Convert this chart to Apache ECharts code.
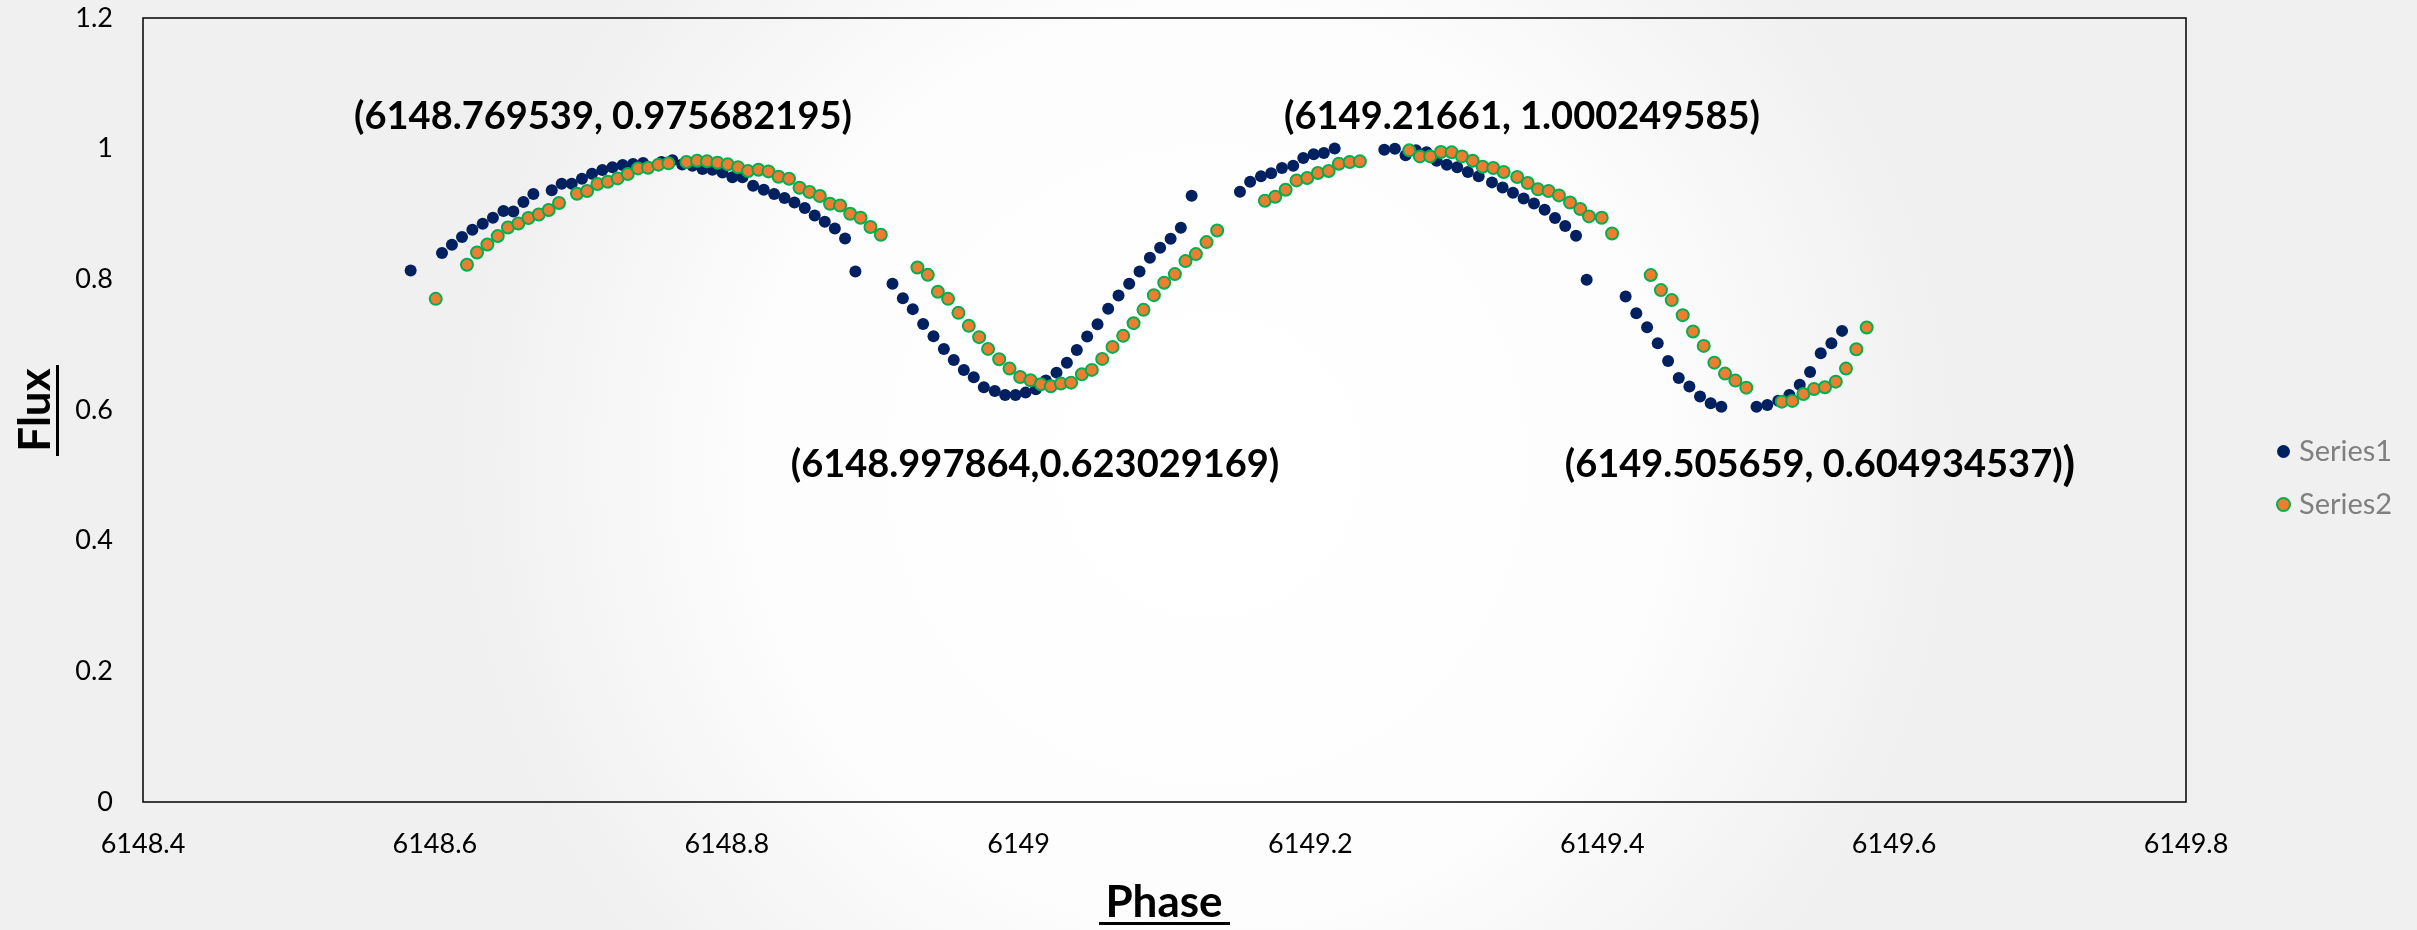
<!DOCTYPE html>
<html>
<head>
<meta charset="utf-8">
<style>
  html, body { margin: 0; padding: 0; }
  #chart { width: 2417px; height: 930px; }
</style>
<script src="https://cdn.jsdelivr.net/npm/echarts@6/dist/echarts.min.js"></script>
</head>
<body>
<div id="chart"></div>
<script>
// Series1: 相位 / 流量
const s1Phase = [
  6148.5834, 6148.6049, 6148.6117, 6148.6186, 6148.6257, 6148.6328, 6148.6398, 6148.6470, 6148.6538, 6148.6607,
  6148.6675, 6148.6801, 6148.6869, 6148.6938, 6148.7008, 6148.7077, 6148.7148, 6148.7217, 6148.7287, 6148.7358,
  6148.7427, 6148.7553, 6148.7628, 6148.7695, 6148.7765, 6148.7834, 6148.7902, 6148.7971, 6148.8039, 6148.8108,
  6148.8181, 6148.8254, 6148.8325, 6148.8396, 6148.8464, 6148.8535, 6148.8603, 6148.8672, 6148.8741, 6148.8811,
  6148.8882, 6148.9136, 6148.9207, 6148.9275, 6148.9346, 6148.9417, 6148.9488, 6148.9556, 6148.9625, 6148.9693,
  6148.9762, 6148.9837, 6148.9908, 6148.9979, 6149.0048, 6149.0118, 6149.0187, 6149.0260, 6149.0331, 6149.0399,
  6149.0470, 6149.0541, 6149.0614, 6149.0685, 6149.0758, 6149.0829, 6149.0900, 6149.0970, 6149.1042, 6149.1112,
  6149.1186, 6149.1517, 6149.1587, 6149.1661, 6149.1731, 6149.1805, 6149.1882, 6149.1951, 6149.2022, 6149.2092,
  6149.2166, 6149.2506, 6149.2579, 6149.2652, 6149.2723, 6149.2796, 6149.2865, 6149.2935, 6149.3006, 6149.3079,
  6149.3153, 6149.3244, 6149.3317, 6149.3388, 6149.3461, 6149.3532, 6149.3605, 6149.3676, 6149.3746, 6149.3820,
  6149.3893, 6149.4160, 6149.4233, 6149.4307, 6149.4380, 6149.4451, 6149.4524, 6149.4597, 6149.4670, 6149.4743,
  6149.4816, 6149.5057, 6149.5131, 6149.5206, 6149.5282, 6149.5353, 6149.5424, 6149.5497, 6149.5570, 6149.5643
]
const s1Flux = [
  0.8135, 0.8402, 0.8529, 0.8647, 0.8759, 0.8851, 0.8943, 0.9045, 0.9040, 0.9183,
  0.9306, 0.9362, 0.9464, 0.9464, 0.9540, 0.9617, 0.9674, 0.9714, 0.9750, 0.9766,
  0.9781, 0.9796, 0.9821, 0.9757, 0.9740, 0.9689, 0.9678, 0.9637, 0.9561, 0.9561,
  0.9433, 0.9372, 0.9306, 0.9244, 0.9177, 0.9091, 0.8978, 0.8881, 0.8779, 0.8626,
  0.8120, 0.7931, 0.7712, 0.7544, 0.7318, 0.7130, 0.6935, 0.6767, 0.6614, 0.6502,
  0.6349, 0.6292, 0.6231, 0.6230, 0.6266, 0.6318, 0.6450, 0.6572, 0.6725, 0.6920,
  0.7124, 0.7314, 0.7548, 0.7752, 0.7931, 0.8120, 0.8330, 0.8483, 0.8621, 0.8789,
  0.9280, 0.9341, 0.9494, 0.9576, 0.9622, 0.9704, 0.9740, 0.9857, 0.9913, 0.9934,
  1.0002, 0.9985, 1.0000, 0.9898, 0.9974, 0.9944, 0.9816, 0.9755, 0.9714, 0.9643,
  0.9576, 0.9484, 0.9407, 0.9326, 0.9239, 0.9162, 0.9065, 0.8938, 0.8815, 0.8667,
  0.7993, 0.7737, 0.7482, 0.7268, 0.7023, 0.6751, 0.6491, 0.6358, 0.6205, 0.6103,
  0.6051, 0.6049, 0.6077, 0.6143, 0.6230, 0.6388, 0.6583, 0.6869, 0.7023, 0.7211
]

// Series2
const s2Phase = [
  6148.6006, 6148.6220, 6148.6289, 6148.6360, 6148.6431, 6148.6501, 6148.6572, 6148.6641, 6148.6712, 6148.6780,
  6148.6851, 6148.6974, 6148.7043, 6148.7114, 6148.7185, 6148.7253, 6148.7322, 6148.7392, 6148.7461, 6148.7532,
  6148.7601, 6148.7724, 6148.7797, 6148.7865, 6148.7937, 6148.8007, 6148.8078, 6148.8146, 6148.8218, 6148.8286,
  6148.8355, 6148.8427, 6148.8499, 6148.8567, 6148.8638, 6148.8708, 6148.8777, 6148.8846, 6148.8917, 6148.8985,
  6148.9056, 6148.9307, 6148.9378, 6148.9447, 6148.9517, 6148.9588, 6148.9659, 6148.9730, 6148.9791, 6148.9867,
  6148.9938, 6149.0011, 6149.0082, 6149.0153, 6149.0221, 6149.0290, 6149.0360, 6149.0434, 6149.0502, 6149.0573,
  6149.0644, 6149.0717, 6149.0788, 6149.0856, 6149.0927, 6149.0998, 6149.1071, 6149.1144, 6149.1215, 6149.1288,
  6149.1361, 6149.1688, 6149.1759, 6149.1830, 6149.1905, 6149.1978, 6149.2051, 6149.2125, 6149.2195, 6149.2269,
  6149.2339, 6149.2677, 6149.2750, 6149.2821, 6149.2894, 6149.2968, 6149.3038, 6149.3112, 6149.3180, 6149.3253,
  6149.3324, 6149.3417, 6149.3489, 6149.3559, 6149.3632, 6149.3703, 6149.3779, 6149.3849, 6149.3909, 6149.3996,
  6149.4067, 6149.4332, 6149.4402, 6149.4476, 6149.4551, 6149.4622, 6149.4695, 6149.4768, 6149.4841, 6149.4912,
  6149.4987, 6149.5230, 6149.5302, 6149.5378, 6149.5451, 6149.5526, 6149.5600, 6149.5670, 6149.5741, 6149.5812
]
const s2Flux = [
  0.7701, 0.8223, 0.8411, 0.8534, 0.8662, 0.8794, 0.8855, 0.8938, 0.8993, 0.9061,
  0.9168, 0.9311, 0.9352, 0.9459, 0.9494, 0.9545, 0.9612, 0.9698, 0.9709, 0.9755,
  0.9775, 0.9796, 0.9816, 0.9806, 0.9786, 0.9760, 0.9714, 0.9658, 0.9678, 0.9652,
  0.9571, 0.9540, 0.9402, 0.9336, 0.9275, 0.9157, 0.9131, 0.9004, 0.8943, 0.8800,
  0.8682, 0.8181, 0.8069, 0.7809, 0.7701, 0.7487, 0.7288, 0.7115, 0.6935, 0.6777,
  0.6634, 0.6506, 0.6456, 0.6394, 0.6364, 0.6404, 0.6419, 0.6548, 0.6614, 0.6782,
  0.6966, 0.7135, 0.7329, 0.7533, 0.7758, 0.7947, 0.8080, 0.8279, 0.8386, 0.8570,
  0.8748, 0.9203, 0.9265, 0.9372, 0.9514, 0.9551, 0.9628, 0.9658, 0.9770, 0.9796,
  0.9806, 0.9974, 0.9882, 0.9882, 0.9949, 0.9944, 0.9882, 0.9816, 0.9724, 0.9704,
  0.9643, 0.9566, 0.9474, 0.9377, 0.9352, 0.9285, 0.9177, 0.9076, 0.8963, 0.8943,
  0.8702, 0.8065, 0.7835, 0.7682, 0.7452, 0.7201, 0.6981, 0.6725, 0.6557, 0.6450,
  0.6342, 0.6128, 0.6139, 0.6246, 0.6322, 0.6348, 0.6434, 0.6634, 0.6930, 0.7262
]

// 坐标轴刻度
const xTicks = { min: 6148.4, max: 6149.8, interval: 0.2 }
const yTicks = { min: 0, max: 1.2, interval: 0.2 }

// 极值标注（最后一个多出的右括号字号更大）
const notes = [
  { text: '{n|(6148.769539, 0.975682195)}', x: 603, y: 117 },
  { text: '{n|(6149.21661, 1.000249585)}', x: 1522, y: 117 },
  { text: '{n|(6148.997864,0.623029169)}', x: 1035, y: 465 },
  { text: '{n|(6149.505659, 0.604934537)}{b|)}', x: 1820, y: 465 }
]

const toPairs = (xs, ys) => xs.map((x, i) => [x, ys[i]])

const chart = echarts.init(document.getElementById('chart'))

const option = {
  backgroundColor: new echarts.graphic.RadialGradient(0.5, 0.5, 0.8, [
    { offset: 0, color: '#ffffff' },
    { offset: 0.6, color: '#fdfdfd' },
    { offset: 1, color: '#f0f0f0' }
  ]),
  textStyle: { fontFamily: 'Lato' },
  animation: false,
  grid: {
    left: 143,
    right: 231,
    top: 18,
    bottom: 128,
    show: true,
    borderColor: '#000',
    borderWidth: 1.5,
    backgroundColor: 'transparent'
  },
  legend: {
    orient: 'vertical',
    left: 2271,
    top: 432,
    icon: 'circle',
    itemWidth: 13,
    itemHeight: 13,
    itemGap: 24,
    textStyle: { color: '#7f7f7f', fontSize: 29, fontFamily: 'Lato', padding: [0, 0, 0, 4] },
    data: ['Series1', 'Series2']
  },
  xAxis: {
    type: 'value',
    min: xTicks.min,
    max: xTicks.max,
    interval: xTicks.interval,
    axisLine: { show: false },
    axisTick: { show: false },
    splitLine: { show: false },
    axisLabel: {
      color: '#000',
      fontSize: 27,
      margin: 29,
      formatter: (v) => String(parseFloat(v.toFixed(1)))
    }
  },
  yAxis: {
    type: 'value',
    min: yTicks.min,
    max: yTicks.max,
    interval: yTicks.interval,
    axisLine: { show: false },
    axisTick: { show: false },
    splitLine: { show: false },
    axisLabel: {
      color: '#000',
      fontSize: 27,
      margin: 30,
      formatter: (v) => String(parseFloat(v.toFixed(1)))
    }
  },
  series: [
    {
      name: 'Series1',
      type: 'scatter',
      symbolSize: 12,
      itemStyle: { color: '#002060', opacity: 1 },
      data: toPairs(s1Phase, s1Flux)
    },
    {
      name: 'Series2',
      type: 'scatter',
      symbolSize: 12,
      itemStyle: { color: '#ed7d31', borderColor: '#00b050', borderWidth: 2, opacity: 1 },
      data: toPairs(s2Phase, s2Flux)
    }
  ],
  graphic: [
    // 轴标题（带下划线）
    {
      type: 'text',
      x: 1164,
      y: 903,
      style: { text: 'Phase', font: 'bold 44px Lato', fill: '#000', align: 'center', verticalAlign: 'middle' }
    },
    { type: 'rect', shape: { x: 1099, y: 922, width: 131, height: 3 }, style: { fill: '#000' } },
    {
      type: 'text',
      x: 36,
      y: 410,
      rotation: Math.PI / 2,
      style: { text: 'Flux', font: 'bold 44px Lato', fill: '#000', align: 'center', verticalAlign: 'middle' }
    },
    { type: 'rect', shape: { x: 56, y: 365, width: 3, height: 91 }, style: { fill: '#000' } },
    ...notes.map((n) => ({
      type: 'text',
      x: n.x,
      y: n.y,
      style: {
        text: n.text,
        align: 'center',
        verticalAlign: 'middle',
        rich: {
          n: { fontFamily: 'Lato', fontWeight: 'bold', fontSize: 38, fill: '#000', color: '#000' },
          b: { fontFamily: 'Lato', fontWeight: 'bold', fontSize: 46, fill: '#000', color: '#000' }
        }
      }
    }))
  ]
}

chart.setOption(option)
</script>
</body>
</html>
